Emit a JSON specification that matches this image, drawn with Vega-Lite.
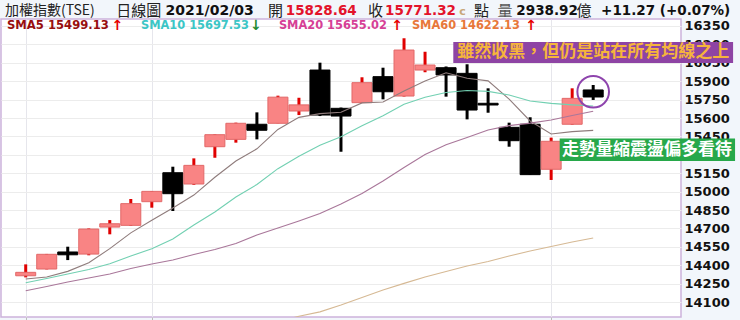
{
  "$schema": "https://vega.github.io/schema/vega-lite/v6.json",
  "width": 680,
  "height": 298,
  "autosize": {"type": "none"},
  "padding": {"left": 1, "top": 19, "right": 59, "bottom": 3},
  "background": "#f2f6fb",
  "config": {
    "view": {"fill": "#ffffff", "stroke": "#cdb2dc", "strokeWidth": 1.5},
    "font": "DejaVu Sans"
  },
  "resolve": {"axis": {"x": "independent", "y": "independent"}},
  "datasets": {
    "kline": [
      {"d": "2020-12-25", "i": 1, "o": 14314, "h": 14407, "l": 14301, "c": 14342, "s5": 14288, "s10": 14257, "s20": 14192, "s60": 13525},
      {"d": "2020-12-28", "i": 2, "o": 14369, "h": 14492, "l": 14366, "c": 14489, "s5": 14304, "s10": 14292, "s20": 14226, "s60": 13550},
      {"d": "2020-12-29", "i": 3, "o": 14508, "h": 14551, "l": 14442, "c": 14485, "s5": 14350, "s10": 14328, "s20": 14263, "s60": 13575},
      {"d": "2020-12-30", "i": 4, "o": 14491, "h": 14700, "l": 14481, "c": 14695, "s5": 14420, "s10": 14365, "s20": 14296, "s60": 13605},
      {"d": "2020-12-31", "i": 5, "o": 14711, "h": 14768, "l": 14652, "c": 14738, "s5": 14535, "s10": 14412, "s20": 14328, "s60": 13635},
      {"d": "2021-01-04", "i": 6, "o": 14725, "h": 14940, "l": 14720, "c": 14902, "s5": 14664, "s10": 14475, "s20": 14373, "s60": 13665},
      {"d": "2021-01-05", "i": 7, "o": 14918, "h": 15005, "l": 14869, "c": 15002, "s5": 14767, "s10": 14535, "s20": 14410, "s60": 13700},
      {"d": "2021-01-06", "i": 8, "o": 15154, "h": 15203, "l": 14842, "c": 14983, "s5": 14867, "s10": 14614, "s20": 14442, "s60": 13735},
      {"d": "2021-01-07", "i": 9, "o": 15062, "h": 15271, "l": 15055, "c": 15214, "s5": 14972, "s10": 14728, "s20": 14487, "s60": 13770},
      {"d": "2021-01-08", "i": 10, "o": 15366, "h": 15467, "l": 15276, "c": 15464, "s5": 15117, "s10": 14834, "s20": 14528, "s60": 13810},
      {"d": "2021-01-11", "i": 11, "o": 15426, "h": 15562, "l": 15399, "c": 15557, "s5": 15249, "s10": 14956, "s20": 14577, "s60": 13850},
      {"d": "2021-01-12", "i": 12, "o": 15549, "h": 15646, "l": 15426, "c": 15500, "s5": 15349, "s10": 15058, "s20": 14646, "s60": 13895},
      {"d": "2021-01-13", "i": 13, "o": 15557, "h": 15782, "l": 15557, "c": 15770, "s5": 15507, "s10": 15187, "s20": 14703, "s60": 13940},
      {"d": "2021-01-14", "i": 14, "o": 15657, "h": 15765, "l": 15624, "c": 15707, "s5": 15605, "s10": 15288, "s20": 14760, "s60": 13984},
      {"d": "2021-01-15", "i": 15, "o": 15991, "h": 16051, "l": 15616, "c": 15624, "s5": 15636, "s10": 15377, "s20": 14821, "s60": 14020},
      {"d": "2021-01-18", "i": 16, "o": 15679, "h": 15685, "l": 15325, "c": 15616, "s5": 15647, "s10": 15448, "s20": 14899, "s60": 14076},
      {"d": "2021-01-19", "i": 17, "o": 15725, "h": 15932, "l": 15722, "c": 15888, "s5": 15723, "s10": 15536, "s20": 14985, "s60": 14137},
      {"d": "2021-01-20", "i": 18, "o": 15937, "h": 16010, "l": 15752, "c": 15814, "s5": 15731, "s10": 15619, "s20": 15086, "s60": 14198},
      {"d": "2021-01-21", "i": 19, "o": 15779, "h": 16250, "l": 15775, "c": 16154, "s5": 15820, "s10": 15713, "s20": 15197, "s60": 14252},
      {"d": "2021-01-22", "i": 20, "o": 15991, "h": 16140, "l": 15973, "c": 16032, "s5": 15902, "s10": 15769, "s20": 15302, "s60": 14304},
      {"d": "2021-01-25", "i": 21, "o": 16010, "h": 16020, "l": 15774, "c": 15951, "s5": 15969, "s10": 15808, "s20": 15382, "s60": 14349},
      {"d": "2021-01-26", "i": 22, "o": 15964, "h": 16038, "l": 15589, "c": 15665, "s5": 15924, "s10": 15824, "s20": 15441, "s60": 14393},
      {"d": "2021-01-27", "i": 23, "o": 15720, "h": 15842, "l": 15643, "c": 15706, "s5": 15903, "s10": 15817, "s20": 15502, "s60": 14430},
      {"d": "2021-01-28", "i": 24, "o": 15524, "h": 15562, "l": 15366, "c": 15415, "s5": 15754, "s10": 15787, "s20": 15538, "s60": 14475},
      {"d": "2021-01-29", "i": 25, "o": 15549, "h": 15606, "l": 15138, "c": 15138.31, "s5": 15576, "s10": 15739, "s20": 15558, "s60": 14516},
      {"d": "2021-02-01", "i": 26, "o": 15182, "h": 15440, "l": 15095, "c": 15410.09, "s5": 15470, "s10": 15719, "s20": 15584, "s60": 14552},
      {"d": "2021-02-02", "i": 27, "o": 15549, "h": 15842, "l": 15545, "c": 15760.05, "s5": 15489, "s10": 15707, "s20": 15621, "s60": 14589},
      {"d": "2021-02-03", "i": 28, "o": 15828.64, "h": 15869, "l": 15747, "c": 15771.32, "s5": 15499.13, "s10": 15697.53, "s20": 15655.02, "s60": 14622.13}
    ]
  },
  "data": {"name": "kline"},
  "layer": [
    {
      "mark": {"type": "rule", "strokeWidth": 3},
      "encoding": {
        "x": {
          "field": "i", "type": "quantitative",
          "scale": {"domain": [0.0625, 31.94], "nice": false, "zero": false},
          "axis": {"title": null, "values": [1, 7, 26], "grid": true, "gridColor": "#e6e6ec", "labels": false, "ticks": true, "tickSize": 4, "tickColor": "#bbbbbb", "domain": false}
        },
        "y": {
          "field": "l", "type": "quantitative",
          "scale": {"domain": [13978, 16407], "nice": false, "zero": false},
          "axis": {
            "title": null, "orient": "right",
            "values": [14100, 14250, 14400, 14550, 14700, 14850, 15000, 15150, 15300, 15450, 15600, 15750, 15900, 16050, 16200, 16350],
            "format": "d", "grid": true, "gridColor": "#ececec", "ticks": false, "domain": false,
            "labelFont": "DejaVu Sans", "labelFontWeight": "bold", "labelFontSize": 13, "labelColor": "#111111",
            "labelPadding": 3, "labelOverlap": false, "labelFlush": false
          }
        },
        "y2": {"field": "h"},
        "color": {"condition": {"test": "datum.c > datum.o", "value": "#e00000"}, "value": "#000000"}
      }
    },
    {
      "mark": {"type": "bar", "width": 20, "strokeWidth": 1},
      "encoding": {
        "x": {"field": "i", "type": "quantitative", "axis": null},
        "y": {"field": "o", "type": "quantitative", "axis": null},
        "y2": {"field": "c"},
        "color": {"condition": {"test": "datum.c > datum.o", "value": "#f98484"}, "value": "#000000"},
        "stroke": {"condition": {"test": "datum.c > datum.o", "value": "#e26868"}, "value": "#000000"}
      }
    },
    {
      "transform": [{"fold": ["s5", "s10", "s20", "s60"], "as": ["ma", "v"]}],
      "mark": {"type": "line", "strokeWidth": 1.1, "clip": true},
      "encoding": {
        "x": {"field": "i", "type": "quantitative", "axis": null},
        "y": {"field": "v", "type": "quantitative", "axis": null},
        "color": {
          "field": "ma", "type": "nominal",
          "scale": {"domain": ["s5", "s10", "s20", "s60"], "range": ["#8f7c7c", "#72d0b2", "#a9779a", "#d6b994"]},
          "legend": null
        }
      }
    },
    {
      "data": {"values": [{}]},
      "mark": {"type": "point", "shape": "circle", "filled": false, "size": 1000, "stroke": "#8e44ad", "strokeWidth": 2, "opacity": 1},
      "encoding": {"x": {"datum": 28, "axis": null}, "y": {"datum": 15814, "axis": null}}
    },
    {
      "data": {"values": [{}]},
      "mark": {"type": "rect", "color": "#8e44a4"},
      "encoding": {"x": {"datum": 21.344, "axis": null}, "x2": {"datum": 34.656}, "y": {"datum": 16219.6, "axis": null}, "y2": {"datum": 16048.4}}
    },
    {
      "data": {"values": [{"t": "雖然收黑，但仍是站在所有均線之上"}]},
      "mark": {"type": "text", "font": "Noto Sans CJK TC", "fontSize": 17, "fontWeight": "bold", "color": "#f6b53b", "align": "center", "baseline": "middle"},
      "encoding": {"x": {"datum": 28, "axis": null}, "y": {"datum": 16134, "axis": null}, "text": {"field": "t"}}
    },
    {
      "data": {"values": [{}]},
      "mark": {"type": "rect", "color": "#27a84a"},
      "encoding": {"x": {"datum": 26.406, "axis": null}, "x2": {"datum": 34.75}, "y": {"datum": 15432.9, "axis": null}, "y2": {"datum": 15249.5}}
    },
    {
      "data": {"values": [{"t": "走勢量縮震盪偏多看待"}]},
      "mark": {"type": "text", "font": "Noto Sans CJK TC", "fontSize": 17, "fontWeight": "bold", "color": "#ffffff", "align": "center", "baseline": "middle"},
      "encoding": {"x": {"datum": 30.555, "axis": null}, "y": {"datum": 15341, "axis": null}, "text": {"field": "t"}}
    },
    {
      "data": {"values": [{"t": "SMA5 15499.13"}]},
      "mark": {"type": "text", "fontSize": 11.6, "fontWeight": "bold", "color": "#980f0f", "align": "left", "baseline": "middle"},
      "encoding": {"x": {"datum": 0.109, "axis": null}, "y": {"datum": 16354, "axis": null}, "text": {"field": "t"}}
    },
    {
      "data": {"values": [{"t": "↑"}]},
      "mark": {"type": "text", "fontSize": 14, "fontWeight": "bold", "color": "#e60000", "align": "left", "baseline": "middle"},
      "encoding": {"x": {"datum": 5.078, "axis": null}, "y": {"datum": 16354, "axis": null}, "text": {"field": "t"}}
    },
    {
      "data": {"values": [{"t": "SMA10 15697.53"}]},
      "mark": {"type": "text", "fontSize": 11.4, "fontWeight": "bold", "color": "#3cc6c6", "align": "left", "baseline": "middle"},
      "encoding": {"x": {"datum": 6.484, "axis": null}, "y": {"datum": 16354, "axis": null}, "text": {"field": "t"}}
    },
    {
      "data": {"values": [{"t": "↓"}]},
      "mark": {"type": "text", "fontSize": 14, "fontWeight": "bold", "color": "#1f8b2f", "align": "left", "baseline": "middle"},
      "encoding": {"x": {"datum": 11.67, "axis": null}, "y": {"datum": 16354, "axis": null}, "text": {"field": "t"}}
    },
    {
      "data": {"values": [{"t": "SMA20 15655.02"}]},
      "mark": {"type": "text", "fontSize": 11.4, "fontWeight": "bold", "color": "#d63f96", "align": "left", "baseline": "middle"},
      "encoding": {"x": {"datum": 13.047, "axis": null}, "y": {"datum": 16354, "axis": null}, "text": {"field": "t"}}
    },
    {
      "data": {"values": [{"t": "↑"}]},
      "mark": {"type": "text", "fontSize": 14, "fontWeight": "bold", "color": "#e60000", "align": "left", "baseline": "middle"},
      "encoding": {"x": {"datum": 18.39, "axis": null}, "y": {"datum": 16354, "axis": null}, "text": {"field": "t"}}
    },
    {
      "data": {"values": [{"t": "SMA60 14622.13"}]},
      "mark": {"type": "text", "fontSize": 11.4, "fontWeight": "bold", "color": "#e8783a", "align": "left", "baseline": "middle"},
      "encoding": {"x": {"datum": 19.375, "axis": null}, "y": {"datum": 16354, "axis": null}, "text": {"field": "t"}}
    },
    {
      "data": {"values": [{"t": "↑"}]},
      "mark": {"type": "text", "fontSize": 14, "fontWeight": "bold", "color": "#e60000", "align": "left", "baseline": "middle"},
      "encoding": {"x": {"datum": 24.766, "axis": null}, "y": {"datum": 16354, "axis": null}, "text": {"field": "t"}}
    },
    {
      "data": {"values": [{"t": "加權指數(TSE)"}]},
      "mark": {"type": "text", "font": "Noto Sans CJK TC", "fontSize": 14, "color": "#222222", "align": "left", "baseline": "middle"},
      "encoding": {"x": {"datum": 0.0156, "axis": null}, "y": {"datum": 16473, "axis": null}, "text": {"field": "t"}}
    },
    {
      "data": {"values": [{"t": "日線圖"}]},
      "mark": {"type": "text", "font": "Noto Sans CJK TC", "fontSize": 15, "color": "#222222", "align": "left", "baseline": "middle"},
      "encoding": {"x": {"datum": 5.3125, "axis": null}, "y": {"datum": 16473, "axis": null}, "text": {"field": "t"}}
    },
    {
      "data": {"values": [{"t": "2021/02/03"}]},
      "mark": {"type": "text", "fontSize": 14, "fontWeight": "bold", "color": "#111111", "align": "left", "baseline": "middle"},
      "encoding": {"x": {"datum": 7.656, "axis": null}, "y": {"datum": 16473, "axis": null}, "text": {"field": "t"}}
    },
    {
      "data": {"values": [{"t": "開"}]},
      "mark": {"type": "text", "font": "Noto Sans CJK TC", "fontSize": 15, "color": "#222222", "align": "left", "baseline": "middle"},
      "encoding": {"x": {"datum": 12.531, "axis": null}, "y": {"datum": 16473, "axis": null}, "text": {"field": "t"}}
    },
    {
      "data": {"values": [{"t": "15828.64"}]},
      "mark": {"type": "text", "fontSize": 13.5, "fontWeight": "bold", "color": "#e3132b", "align": "left", "baseline": "middle"},
      "encoding": {"x": {"datum": 13.375, "axis": null}, "y": {"datum": 16473, "axis": null}, "text": {"field": "t"}}
    },
    {
      "data": {"values": [{"t": "收"}]},
      "mark": {"type": "text", "font": "Noto Sans CJK TC", "fontSize": 15, "color": "#222222", "align": "left", "baseline": "middle"},
      "encoding": {"x": {"datum": 17.28, "axis": null}, "y": {"datum": 16473, "axis": null}, "text": {"field": "t"}}
    },
    {
      "data": {"values": [{"t": "15771.32"}]},
      "mark": {"type": "text", "fontSize": 13.5, "fontWeight": "bold", "color": "#e3132b", "align": "left", "baseline": "middle"},
      "encoding": {"x": {"datum": 18.1, "axis": null}, "y": {"datum": 16473, "axis": null}, "text": {"field": "t"}}
    },
    {
      "data": {"values": [{"t": "c"}]},
      "mark": {"type": "text", "fontSize": 11, "fontWeight": "bold", "color": "#c8a77a", "align": "left", "baseline": "middle"},
      "encoding": {"x": {"datum": 21.625, "axis": null}, "y": {"datum": 16462, "axis": null}, "text": {"field": "t"}}
    },
    {
      "data": {"values": [{"t": "點"}]},
      "mark": {"type": "text", "font": "Noto Sans CJK TC", "fontSize": 15, "color": "#222222", "align": "left", "baseline": "middle"},
      "encoding": {"x": {"datum": 22.328, "axis": null}, "y": {"datum": 16473, "axis": null}, "text": {"field": "t"}}
    },
    {
      "data": {"values": [{"t": "量"}]},
      "mark": {"type": "text", "font": "Noto Sans CJK TC", "fontSize": 15, "color": "#555555", "align": "left", "baseline": "middle"},
      "encoding": {"x": {"datum": 23.453, "axis": null}, "y": {"datum": 16473, "axis": null}, "text": {"field": "t"}}
    },
    {
      "data": {"values": [{"t": "2938.92"}]},
      "mark": {"type": "text", "fontSize": 13.5, "fontWeight": "bold", "color": "#111111", "align": "left", "baseline": "middle"},
      "encoding": {"x": {"datum": 24.344, "axis": null}, "y": {"datum": 16473, "axis": null}, "text": {"field": "t"}}
    },
    {
      "data": {"values": [{"t": "億"}]},
      "mark": {"type": "text", "font": "Noto Sans CJK TC", "fontSize": 15, "color": "#222222", "align": "left", "baseline": "middle"},
      "encoding": {"x": {"datum": 27.203, "axis": null}, "y": {"datum": 16473, "axis": null}, "text": {"field": "t"}}
    },
    {
      "data": {"values": [{"t": "+11.27 (+0.07%)"}]},
      "mark": {"type": "text", "fontSize": 13.5, "fontWeight": "bold", "color": "#111111", "align": "left", "baseline": "middle"},
      "encoding": {"x": {"datum": 28.375, "axis": null}, "y": {"datum": 16473, "axis": null}, "text": {"field": "t"}}
    }
  ]
}
